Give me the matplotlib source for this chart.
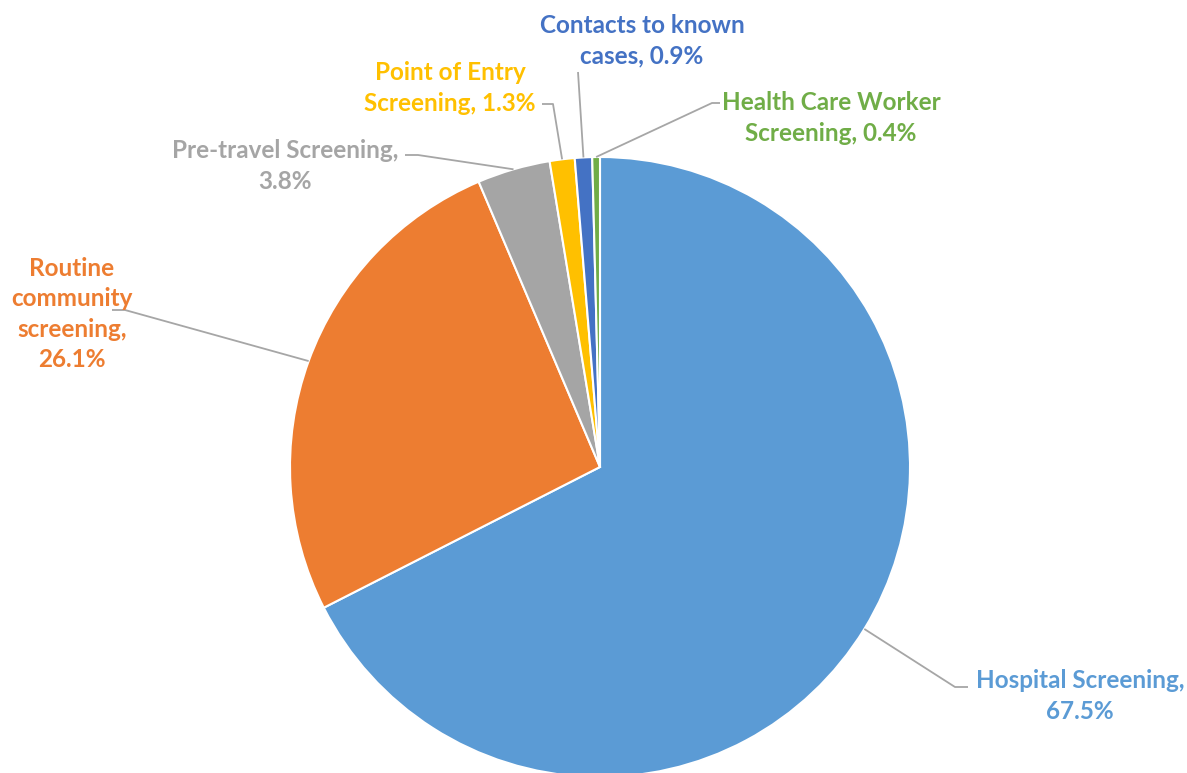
import numpy as np
import matplotlib.pyplot as plt

categories = ["Hospital Screening", "Routine community screening", "Pre-travel Screening",
              "Point of Entry Screening", "Contacts to known cases", "Health Care Worker Screening"]
shares = [67.5, 26.1, 3.8, 1.3, 0.9, 0.4]
label_text = ["Hospital Screening,\n67.5%", "Routine\ncommunity\nscreening,\n26.1%",
              "Pre-travel Screening,\n3.8%", "Point of Entry\nScreening, 1.3%",
              "Contacts to known\ncases, 0.9%", "Health Care Worker\nScreening, 0.4%"]
colors = ["#5B9BD5", "#ED7D31", "#A5A5A5", "#FFC000", "#4472C4", "#70AD47"]
text_colors = ["#5B9BD5", "#ED7D31", "#A5A5A5", "#FFC000", "#4472C4", "#70AD47"]

W, H = 1187, 773
fig = plt.figure(figsize=(W / 100, H / 100), dpi=100)
ax = fig.add_axes([0, 0, 1, 1])

cx, cy, r = 600, H - 467, 310
wedges, _ = ax.pie(shares, colors=colors, startangle=90, counterclock=False,
                   center=(cx, cy), radius=r, frame=True,
                   wedgeprops=dict(edgecolor="white", linewidth=1.5))
ax.set_xlim(0, W)
ax.set_ylim(0, H)
ax.set_aspect("equal")
ax.axis("off")

# label centre, elbow point and horizontal stub end, in pixel coords (y down)
label_pos = [(1080, 696), (72, 314), (285, 166), (450, 88), (642, 41), (831, 118)]
elbows = [((955, 687), (968, 687)), ((125, 310), (112, 310)), ((418, 155), (405, 155)),
          ((553, 104), (542, 104)), ((578, 72), (578, 72)), ((712, 103), (720, 103))]

line_col = "#A6A6A6"
for i, w in enumerate(wedges):
    mid = np.deg2rad((w.theta1 + w.theta2) / 2)
    px, py = cx + r * np.cos(mid), cy + r * np.sin(mid)
    (ex, ey), (sx, sy) = elbows[i]
    ax.plot([px, ex, sx], [py, H - ey, H - sy], color=line_col, lw=1.3,
            solid_capstyle="butt", zorder=1)
    tx, ty = label_pos[i]
    ax.text(tx, H - ty, label_text[i], color=text_colors[i], fontsize=17.5,
            fontweight="bold", family=["Lato", "DejaVu Sans"], ha="center",
            va="center", linespacing=1.4)

fig.savefig("out.png", dpi=100, facecolor="white")
